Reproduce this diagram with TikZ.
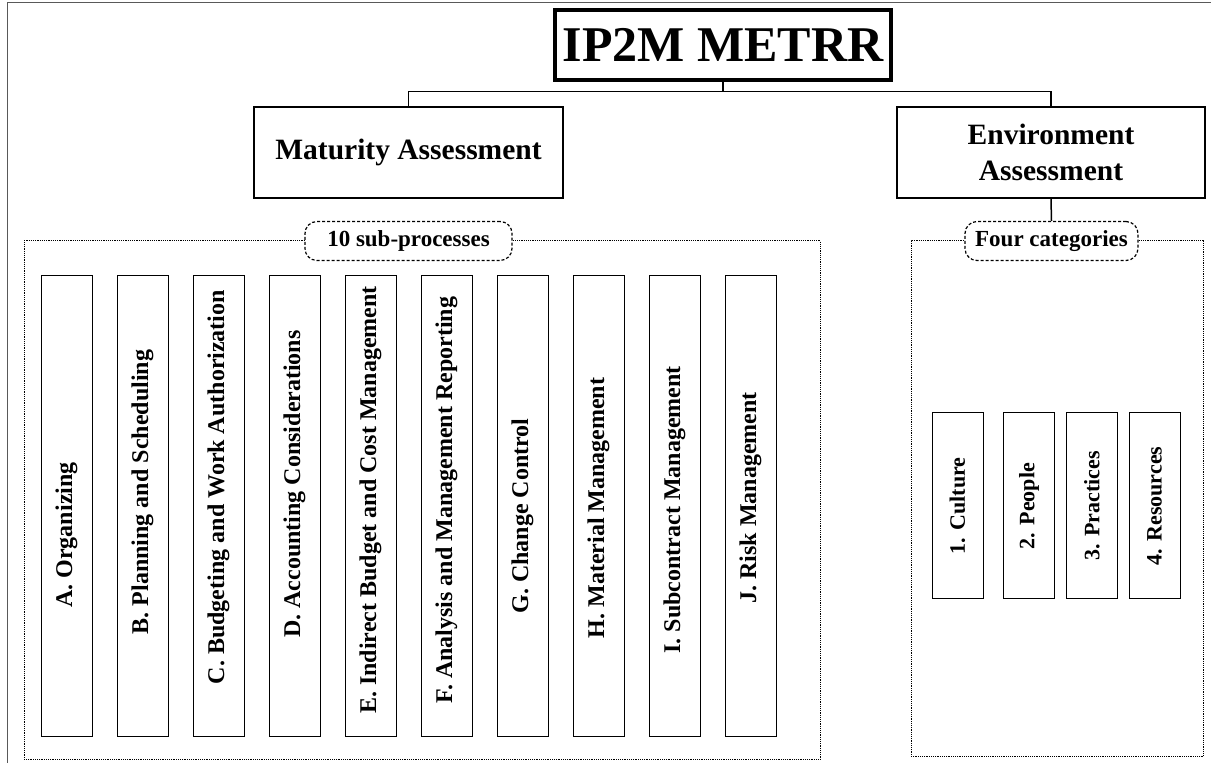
\documentclass[tikz,border=0pt]{standalone}
\usepackage{fontspec}
\setmainfont{Liberation Serif}
\usetikzlibrary{positioning}

\begin{document}
\begin{tikzpicture}[x=1pt,y=1pt,semithick]
  \tikzstyle{head}=[draw,rectangle,line width=2pt,align=center,
                    font=\fontsize{29.5}{36}\selectfont\bfseries]
  \tikzstyle{group}=[draw,dash pattern=on 1.2pt off 1pt,line width=1pt]
  \tikzstyle{tag}=[draw,rounded corners=12pt,dash pattern=on 3pt off 2pt,
                   line width=1.2pt,fill=white,minimum height=39pt,
                   font=\fontsize{23}{27}\selectfont\bfseries]
  \tikzstyle{item}=[draw,rectangle,line width=1pt,minimum width=51pt]
  \tikzstyle{txt}=[rotate=90,font=\fontsize{24}{28}\selectfont\bfseries]
  \tikzstyle{cattxt}=[rotate=90,font=\fontsize{22}{26}\selectfont\bfseries]

  \useasboundingbox (0,0) rectangle (1211,763);
  \draw[line width=1pt,black!65] (7,0) -- (7,760) -- (1211,760);

  \node[draw,line width=3.5pt,minimum width=336pt,minimum height=70pt,
        font=\fontsize{50}{58}\selectfont\bfseries] (IP) at (723,718) {IP2M METRR};
  \node[head,minimum width=309pt,minimum height=91pt] (MA) at (408.5,610.5) {Maturity Assessment};
  \node[head,minimum width=308pt,minimum height=91pt] (EA) at (1051,610.5) {Environment\\Assessment};

  \draw[line width=1.5pt] (IP.south) -- ++(0,-10) -| (MA.north);
  \draw[line width=1.5pt] (IP.south) -- ++(0,-10) -| (EA.north);

  % dotted groups
  \draw[group] (24,3) rectangle (820,522);
  \draw[group] (911,6) rectangle (1203,522);
  \node[tag,minimum width=207pt] (SP) at (408.5,522) {10 sub-processes};
  \node[tag,minimum width=173pt] (FC) at (1051.5,522) {Four categories};
  \draw[line width=1.5pt] (EA.south) -- (FC.north);

  % sub-processes
  \foreach \n/\x/\c/\t in {A/66.5/228/A. Organizing,
                           B/142.5/271/B. Planning and Scheduling,
                           C/218.5/276/C. Budgeting and Work Authorization,
                           D/294.5/279/D. Accounting Considerations,
                           E/370.5/263/E. Indirect Budget and Cost Management,
                           F/446.5/263/F. Analysis and Management Reporting,
                           G/522.5/247/G. Change Control,
                           H/598.5/255/H. Material Management,
                           I/674.5/253/I. Subcontract Management,
                           J/750.5/265/J. Risk Management}
  {
    \node[item,minimum height=461pt] (\n) at (\x,256.5) {};
    \node[txt] at (\x,\c) {\t};
  }

  % categories
  \foreach \n/\x/\t in {cat1/957.5/1. Culture, cat2/1029/2. People,
                        cat3/1092/3. Practices, cat4/1154.5/4. Resources}
  {
    \node[item,minimum height=186pt] (\n) at (\x,257) {};
    \node[cattxt] at (\n.center) {\t};
  }
\end{tikzpicture}
\end{document}
